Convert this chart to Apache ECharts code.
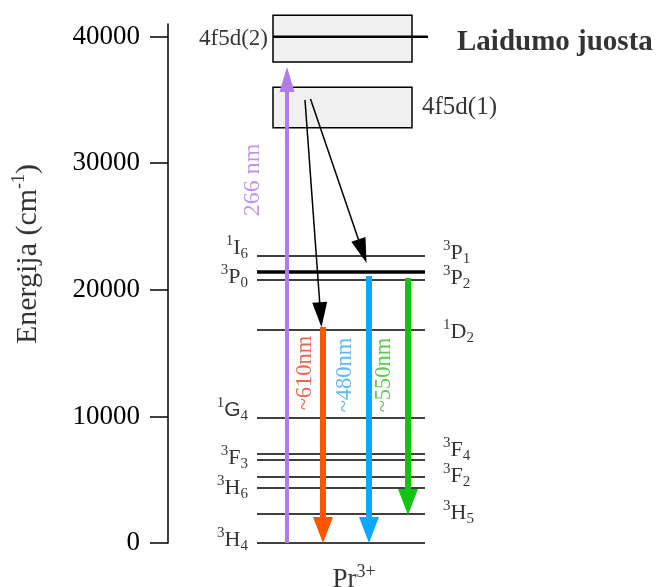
<!DOCTYPE html>
<html><head><meta charset="utf-8">
<script src="https://cdn.jsdelivr.net/npm/echarts@6/dist/echarts.min.js"></script>
<style>html,body{margin:0;padding:0;background:#fff}#c{width:659px;height:587px}</style>
</head><body><div id="c"></div>
<script>
// ---------- data ----------
const yTicks = [0, 10000, 20000, 30000, 40000];
const levelEnergies = [0, 2290, 4350, 5210, 6560, 7030, 9880, 16830, 20780, 22670];
const thickLevelEnergies = [21410];
const bandBoxes = [[38000, 41700], [32800, 36000]];
const bandLineEnergies = [40000];
const leftLabelTerms = [['1','I','6'],['3','P','0'],['1','G','4'],['3','F','3'],['3','H','6'],['3','H','4']];
const leftLabelEnergies = [22670, 20780, 9880, 6560, 4350, 0];
const rightLabelTerms = [['3','P','1'],['3','P','2'],['1','D','2'],['3','F','4'],['3','F','2'],['3','H','5']];
const rightLabelEnergies = [22670, 20780, 16830, 7030, 5210, 2290];
const excitationFrom = [0], excitationTo = [37600], excitationLabels = ['266 nm'];
const relaxFrom = [35000, 35070], relaxTo = [17050, 22120];
const emissionFrom = [17060, 21090, 20930], emissionTo = [0, 0, 2210];
const emissionLabels = ['~610nm', '~480nm', '~550nm'];
const bandNames = ['4f5d(2)', '4f5d(1)'];
const bandTitle = 'Laidumo juosta';
const ionName = ['Pr', '3+'];
const yName = ['Energija (cm', '-1', ')'];

// ---------- layout / style ----------
const SERIF = 'Liberation Serif';
const levelX = [89, 257];
const boxX = [105, 244];
const bandLineX = [105, 260];
const excitationX = [119];
const relaxX = [[137, 153.5], [142.5, 198.5]];
const emissionX = [155, 201, 240];
const emissionColors = ['#ff5500', '#0aa8ff', '#11c411'];
const emissionTextColors = ['#e8402a', '#3aa6f0', '#3cb82a'];
const purple = '#b07ce6';
const leftLabelX = 80, leftLabelDy = [-8, -3, -8, -2, 0, -3];
const rightLabelX = 275, rightLabelDy = [-3, -2, 2, -4, -1, -1];

const rich = {
  m: {fontFamily: SERIF, fontSize: 22, lineHeight: 28, verticalAlign: 'middle', color: '#000'},
  ms: {fontFamily: 'Liberation Sans', fontSize: 21, lineHeight: 28, verticalAlign: 'middle', color: '#000'},
  s: {fontFamily: SERIF, fontSize: 15, lineHeight: 15, verticalAlign: 'top', color: '#000'},
  b: {fontFamily: SERIF, fontSize: 15, lineHeight: 15, verticalAlign: 'bottom', color: '#000'},
  big: {fontFamily: SERIF, fontSize: 30, lineHeight: 36, verticalAlign: 'middle', color: '#000'},
  bigs: {fontFamily: SERIF, fontSize: 18, lineHeight: 18, verticalAlign: 'top', color: '#000'},
  ion: {fontFamily: SERIF, fontSize: 27, lineHeight: 32, verticalAlign: 'middle', color: '#000'},
  ions: {fontFamily: SERIF, fontSize: 18, lineHeight: 18, verticalAlign: 'top', color: '#000'}
};
function term(t, sans) {
  return '{s|' + t[0] + '}{' + (sans ? 'ms' : 'm') + '|' + t[1] + '}{b|' + t[2] + '}';
}

function arrowRender(cfg) {
  return function (params, api) {
    const a = api.coord([api.value(0), api.value(1)]);
    const b = api.coord([api.value(2), api.value(3)]);
    const dx = b[0] - a[0], dy = b[1] - a[1];
    const len = Math.hypot(dx, dy), ux = dx / len, uy = dy / len, px = -uy, py = ux;
    const L = cfg.headLen, W = cfg.headW;
    const base = [b[0] - ux * L, b[1] - uy * L];
    const le = [b[0] - ux * L * 0.5, b[1] - uy * L * 0.5];
    const color = cfg.colors[params.dataIndex];
    return {type: 'group', children: [
      {type: 'line', shape: {x1: a[0], y1: a[1], x2: le[0], y2: le[1]}, style: {stroke: color, lineWidth: cfg.width}},
      {type: 'polygon', shape: {points: [b, [base[0] + px * W / 2, base[1] + py * W / 2], [base[0] - px * W / 2, base[1] - py * W / 2]]}, style: {fill: color}}
    ]};
  };
}
function hLineRender(width) {
  return function (params, api) {
    const a = api.coord([api.value(0), api.value(2)]);
    const b = api.coord([api.value(1), api.value(2)]);
    return {type: 'line', shape: {x1: a[0], y1: a[1], x2: b[0], y2: b[1]}, style: {stroke: '#000', lineWidth: width}};
  };
}

// annotation labels
const labels = [];
function addLabel(x, e, text, opt) {
  labels.push({value: [x, e], label: Object.assign({show: true, formatter: text, rich: rich, color: '#000', textBorderWidth: 0, distance: 0}, opt)});
}
leftLabelTerms.forEach((t, i) => addLabel(leftLabelX, leftLabelEnergies[i], term(t, t[1] === 'G'), {position: 'left', offset: [0, leftLabelDy[i]]}));
rightLabelTerms.forEach((t, i) => addLabel(rightLabelX, rightLabelEnergies[i], term(t), {position: 'right', offset: [0, rightLabelDy[i]]}));
addLabel(100, 40000, bandNames[0], {position: 'left', offset: [0, 2], fontFamily: SERIF, fontSize: 23});
addLabel(254, (bandBoxes[1][0] + bandBoxes[1][1]) / 2, bandNames[1], {position: 'right', fontFamily: SERIF, fontSize: 25});
addLabel(289, bandLineEnergies[0], bandTitle, {position: 'right', offset: [0, 6], fontFamily: SERIF, fontSize: 29, fontWeight: 'bold', color: '#000'});
addLabel(85, 28675, excitationLabels[0], {position: 'inside', rotate: 90, fontFamily: SERIF, fontSize: 24, color: purple});
const emLabelX = [137, 177, 216], emLabelE = [13430, 13270, 13270];
emissionLabels.forEach((t, i) => addLabel(emLabelX[i], emLabelE[i], t, {position: 'inside', rotate: 90, fontFamily: SERIF, fontSize: 22.5, color: emissionTextColors[i]}));
addLabel(186, -2900, '{ion|' + ionName[0] + '}{ions|' + ionName[1] + '}', {position: 'inside'});
addLabel(-140, 22830, '{big|' + yName[0] + '}{bigs|' + yName[1] + '}{big|' + yName[2] + '}', {position: 'inside', rotate: 90});

const chart = echarts.init(document.getElementById('c'), null, {renderer: 'canvas'});
chart.setOption({
  animation: false,
  backgroundColor: '#fff',
  grid: {left: 168, right: 0, top: 24, bottom: 44},
  xAxis: {type: 'value', min: 0, max: 491, show: false},
  yAxis: {
    type: 'value', min: 0, max: 41000,
    axisLine: {show: true, lineStyle: {color: '#000', width: 1.5}},
    axisTick: {show: true, inside: false, length: 18, customValues: yTicks, lineStyle: {color: '#000', width: 1.5}},
    axisLabel: {customValues: yTicks, formatter: v => String(v), fontFamily: SERIF, fontSize: 27, color: '#000', margin: 28},
    splitLine: {show: false}
  },
  series: [
    {type: 'custom', clip: false, silent: true, z: 1,
     data: bandBoxes.map(b => [boxX[0], boxX[1], b[0], b[1]]),
     renderItem: function (params, api) {
       const p0 = api.coord([api.value(0), api.value(3)]);
       const p1 = api.coord([api.value(1), api.value(2)]);
       return {type: 'rect', shape: {x: p0[0], y: p0[1], width: p1[0] - p0[0], height: p1[1] - p0[1]}, style: {fill: '#f0f0f0', stroke: '#000', lineWidth: 1.5}};
     }},
    {type: 'custom', clip: false, silent: true, z: 2, data: bandLineEnergies.map(e => [bandLineX[0], bandLineX[1], e]), renderItem: hLineRender(2.5)},
    {type: 'custom', clip: false, silent: true, z: 2, data: levelEnergies.map(e => [levelX[0], levelX[1], e]), renderItem: hLineRender(1.6)},
    {type: 'custom', clip: false, silent: true, z: 2, data: thickLevelEnergies.map(e => [levelX[0], levelX[1], e]), renderItem: hLineRender(3.5)},
    {type: 'custom', clip: false, silent: true, z: 3, data: excitationFrom.map((e, i) => [excitationX[i], e, excitationX[i], excitationTo[i]]),
     renderItem: arrowRender({width: 4, headLen: 25, headW: 15, colors: [purple]})},
    {type: 'custom', clip: false, silent: true, z: 3, data: relaxFrom.map((e, i) => [relaxX[i][0], e, relaxX[i][1], relaxTo[i]]),
     renderItem: arrowRender({width: 1.5, headLen: 25, headW: 15, colors: ['#000', '#000']})},
    {type: 'custom', clip: false, silent: true, z: 3, data: emissionFrom.map((e, i) => [emissionX[i], e, emissionX[i], emissionTo[i]]),
     renderItem: arrowRender({width: 6, headLen: 26, headW: 20, colors: emissionColors})},
    {type: 'scatter', clip: false, silent: true, z: 5, symbolSize: 0, data: labels}
  ]
});
</script></body></html>
